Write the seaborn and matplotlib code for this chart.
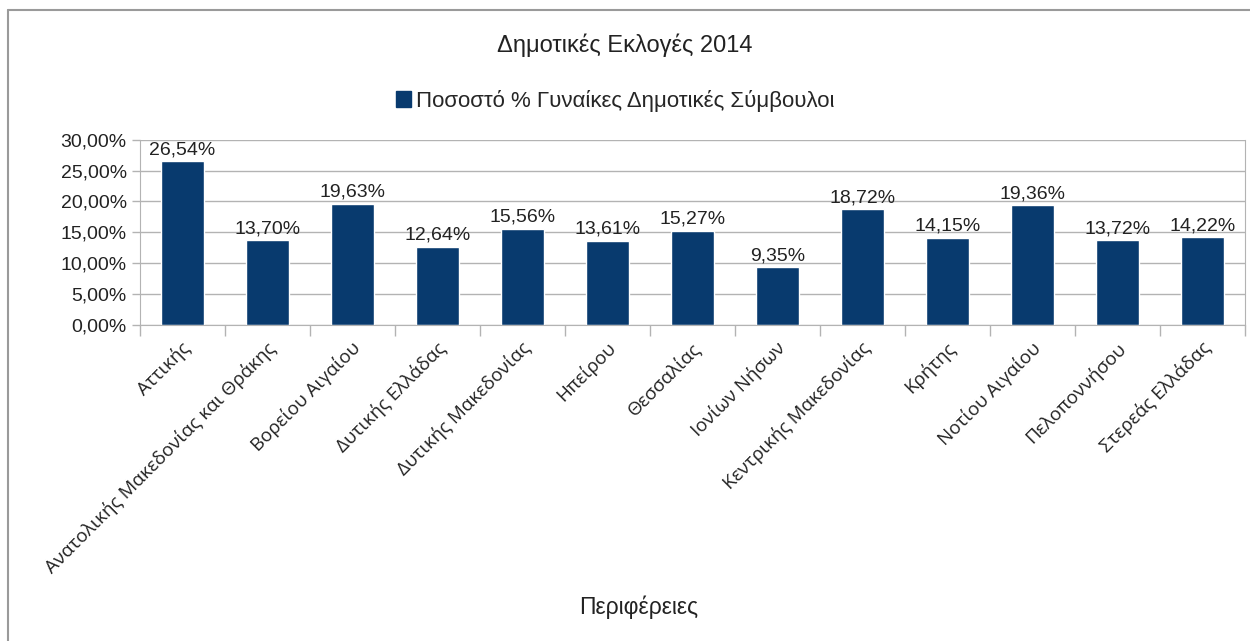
import matplotlib.pyplot as plt
import matplotlib.patches as mpatches
import pandas as pd
import seaborn as sns

regions = [
    "Αττικής",
    "Ανατολικής Μακεδονίας και Θράκης",
    "Βορείου Αιγαίου",
    "Δυτικής Ελλάδας",
    "Δυτικής Μακεδονίας",
    "Ηπείρου",
    "Θεσσαλίας",
    "Ιονίων Νήσων",
    "Κεντρικής Μακεδονίας",
    "Κρήτης",
    "Νοτίου Αιγαίου",
    "Πελοποννήσου",
    "Στερεάς Ελλάδας",
]
pct_women = [26.54, 13.70, 19.63, 12.64, 15.56, 13.61, 15.27, 9.35, 18.72, 14.15, 19.36, 13.72, 14.22]
y_ticks = [0, 5, 10, 15, 20, 25, 30]

series_name = "Ποσοστό % Γυναίκες Δημοτικές Σύμβουλοι"
bar_color = "#083a6e"

df = pd.DataFrame({"region": regions, "pct": pct_women})

sns.set_style("white")
plt.rcParams["font.family"] = ["Liberation Sans", "DejaVu Sans"]

fig = plt.figure(figsize=(12.5, 6.41), dpi=100)
ax = fig.add_axes([0.112, 0.493, 0.884, 0.289])

sns.barplot(data=df, x="region", y="pct", color=bar_color, width=0.5,
            saturation=1, ax=ax)

def fmt(v):
    return f"{v:.2f}%".replace(".", ",")

for i, v in enumerate(pct_women):
    ax.text(i, v + 0.5, fmt(v), ha="center", va="bottom", fontsize=14, color="#222222")

ax.set_ylim(0, 30)
ax.set_xlim(-0.5, len(regions) - 0.5)
ax.set_yticks(y_ticks)
ax.set_yticklabels([fmt(t) for t in y_ticks], fontsize=14, color="#222222")
ax.yaxis.grid(True, color="#b3b3b3", linewidth=1)
ax.set_axisbelow(True)

# ticks between categories on the x axis
ax.set_xticks([i + 0.5 for i in range(-1, len(regions))], minor=False)
ax.set_xticklabels([])
ax.tick_params(axis="x", length=8, color="#b3b3b3", width=1, direction="out", bottom=True)
ax.tick_params(axis="y", length=6, color="#b3b3b3", width=1, direction="out", left=True)
for i, name in enumerate(regions):
    ax.text(i - 0.02, -2.2, name, rotation=45, ha="right", va="top",
            rotation_mode="anchor", fontsize=13.5, family=["Open Sans", "DejaVu Sans"],
            color="#222222")

ax.spines["top"].set_visible(False)
for side in ["left", "bottom", "right"]:
    ax.spines[side].set_color("#b3b3b3")
ax.set_xlabel("")
ax.set_ylabel("")

fig.text(0.5, 0.93, "Δημοτικές Εκλογές 2014", ha="center", va="center", fontsize=17,
         color="#222222")
fig.text(0.511, 0.053, "Περιφέρειες", ha="center", va="center", fontsize=16.5, color="#222222")

handle = mpatches.Patch(color=bar_color, label=series_name)
fig.legend(handles=[handle], loc="center", bbox_to_anchor=(0.492, 0.843), frameon=False,
           fontsize=16, handlelength=0.7, handleheight=0.7, handletextpad=0.2)

# outer frame
fig.add_artist(plt.Line2D([0.006, 0.006], [0, 0.985], color="#9a9a9a", linewidth=1.5,
                          transform=fig.transFigure))
fig.add_artist(plt.Line2D([0.006, 1], [0.985, 0.985], color="#9a9a9a", linewidth=1.5,
                          transform=fig.transFigure))

fig.savefig("out.png", dpi=100)
